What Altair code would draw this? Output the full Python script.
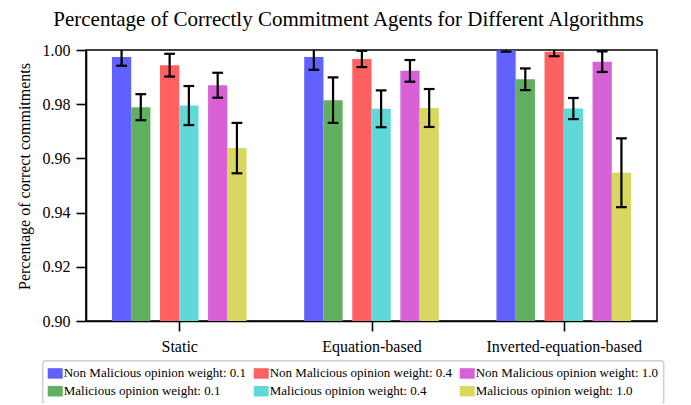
import altair as alt
import pandas as pd

groups = ["Static", "Equation-based", "Inverted-equation-based"]

series = [
    "Non Malicious opinion weight: 0.1",
    "Malicious opinion weight: 0.1",
    "Non Malicious opinion weight: 0.4",
    "Malicious opinion weight: 0.4",
    "Non Malicious opinion weight: 1.0",
    "Malicious opinion weight: 1.0",
]
colors = ["#6161ff", "#61b061", "#ff6161", "#61d8d8", "#d861d8", "#d8d861"]
offsets = [-0.3, -0.2, -0.05, 0.05, 0.2, 0.3]

means = [
    [0.9974, 0.9974, 0.9999],
    [0.9789, 0.9815, 0.9892],
    [0.9944, 0.9967, 0.9994],
    [0.9795, 0.9783, 0.9784],
    [0.9870, 0.9923, 0.9957],
    [0.9638, 0.9786, 0.9547],
]
errs = [
    [0.0032, 0.0047, 0.0005],
    [0.0048, 0.0084, 0.0040],
    [0.0042, 0.0030, 0.0017],
    [0.0072, 0.0068, 0.0039],
    [0.0046, 0.0040, 0.0038],
    [0.0093, 0.0070, 0.0127],
]

bar_w = 0.1
cap_w = 0.028

rows = []
for si, s in enumerate(series):
    for gi, g in enumerate(groups):
        xc = gi + offsets[si]
        m = means[si][gi]
        e = errs[si][gi]
        rows.append({
            "series": s, "group": g, "xc": xc,
            "x0": xc - bar_w / 2, "x1": xc + bar_w / 2,
            "cx0": xc - cap_w, "cx1": xc + cap_w,
            "mean": m, "lo": m - e, "hi": m + e, "base": 0.90,
        })
df = pd.DataFrame(rows)

serif = "Liberation Serif"
label_expr = "[" + ",".join("'" + g + "'" for g in groups) + "][datum.value]"

xscale = alt.Scale(domain=[-0.485, 2.485], nice=False, zero=False)
yscale = alt.Scale(domain=[0.90, 1.00], nice=False, zero=False)

xaxis = alt.Axis(values=[0, 1, 2], labelExpr=label_expr, title=None, grid=False,
                 labelFont=serif, labelFontSize=16, labelColor="black", labelPadding=7,
                 tickSize=10, tickWidth=1.6, tickColor="black",
                 domainColor="black", domainWidth=1.6)
yaxis = alt.Axis(values=[0.90, 0.92, 0.94, 0.96, 0.98, 1.00], format=".2f", grid=False,
                 title="Percentage of correct commitments",
                 titleFont=serif, titleFontSize=16, titleFontWeight="normal", titleColor="black",
                 titleAngle=270, titleAlign="center", titleBaseline="alphabetic",
                 titleX=-56.5, titleY=126,
                 labelFont=serif, labelFontSize=16, labelColor="black", labelPadding=6,
                 tickSize=10, tickWidth=1.6, tickColor="black",
                 domainColor="black", domainWidth=1.6)

base = alt.Chart(df)

bars = base.mark_bar(clip=True, strokeWidth=0, opacity=1).encode(
    x=alt.X("x0:Q", scale=xscale, axis=xaxis),
    x2="x1:Q",
    y=alt.Y("mean:Q", scale=yscale, axis=yaxis),
    y2="base:Q",
    color=alt.Color("series:N",
                    scale=alt.Scale(domain=series, range=colors),
                    legend=alt.Legend(title=None, orient="none", columns=3, direction="vertical",
                                      legendX=-43.3, legendY=310.7,
                                      symbolType="M-1,-0.7L1,-0.7L1,0.7L-1,0.7Z",
                                      symbolSize=225, symbolStrokeWidth=0, symbolOpacity=1,
                                      labelFont=serif, labelFontSize=13, labelColor="black",
                                      labelOffset=1, columnPadding=7, rowPadding=3,
                                      padding=5, strokeColor="#cfcfcf", fillColor="white",
                                      cornerRadius=3, labelLimit=400)),
)

stems = base.mark_rule(clip=True, color="black", strokeWidth=2.2).encode(
    x="xc:Q", y="lo:Q", y2="hi:Q",
)
caps_lo = base.mark_rule(clip=True, color="black", strokeWidth=2.2).encode(
    x="cx0:Q", x2="cx1:Q", y="lo:Q",
)
caps_hi = base.mark_rule(clip=True, color="black", strokeWidth=2.2).encode(
    x="cx0:Q", x2="cx1:Q", y="hi:Q",
)

chart = alt.layer(bars, stems, caps_lo, caps_hi).properties(
    width=571, height=271,
    title=alt.TitleParams(
        "Percentage of Correctly Commitment Agents for Different Algorithms",
        font=serif, fontSize=21, fontWeight="normal", color="black",
        anchor="middle", frame="group", offset=12, dx=-23,
    ),
    autosize=alt.AutoSizeParams(type="none"),
    padding={"left": 78, "top": 42, "right": 26, "bottom": 82},
).configure_view(stroke="black", strokeWidth=1.6).configure_legend(strokeWidth=1.5)

chart.save("out.html", embed_options={"renderer": "svg", "actions": False})
